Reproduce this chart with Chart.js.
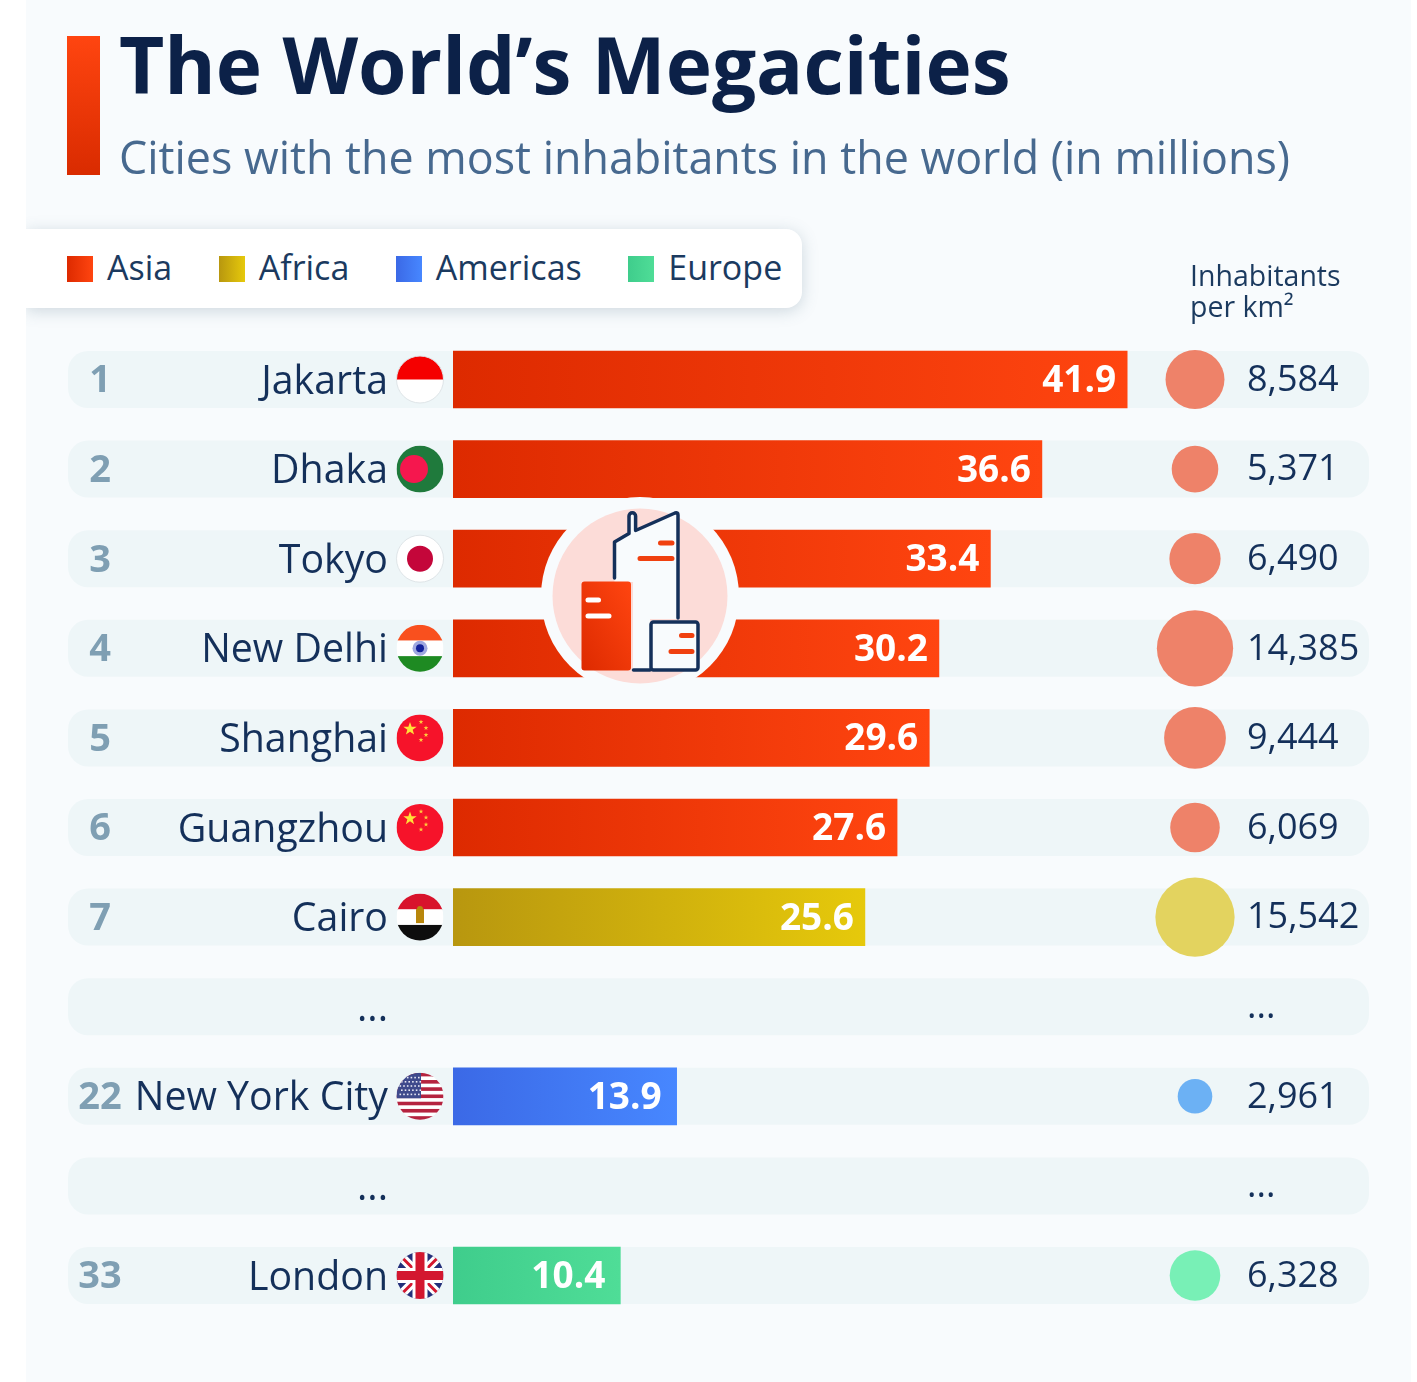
<!DOCTYPE html>
<html>
<head>
<meta charset="utf-8">
<title>The World's Megacities</title>
<script src="https://cdn.jsdelivr.net/npm/chart.js@4/dist/chart.umd.min.js"></script>
<style>
  html, body { margin: 0; padding: 0; background: #fff; }
  body { width: 1417px; height: 1382px; position: relative; overflow: hidden; font-family: "Open Sans", sans-serif; }
  #panel { position: absolute; left: 26px; top: 0; width: 1385px; height: 1382px; background: #f8fbfd; overflow: hidden; }
  #chart { position: absolute; left: 0; top: 0; }
  #accent { position: absolute; left: 67px; top: 36px; width: 33px; height: 139px; background: linear-gradient(#ff4510, #d92b00); }
  #title { position: absolute; left: 119px; top: 14px; font-size: 78.3px; line-height: 100px; font-weight: 700; color: #0c2148; white-space: nowrap; }
  #subtitle { position: absolute; left: 119px; top: 126px; font-size: 44.8px; line-height: 62px; color: #47698f; white-space: nowrap; }
  #legend { position: absolute; left: 0; top: 229px; width: 735px; height: 79px; padding-left: 41px; background: #fff; border-radius: 0 16px 16px 0;
            box-shadow: 0 3px 16px rgba(80, 110, 130, .25); display: flex; align-items: center; gap: 46.5px; }
  #legend div { display: flex; align-items: center; gap: 14px; font-size: 34px; line-height: 40px; color: #1b3a5f; }
  #legend span { position: relative; top: -2px; }
  #legend i { display: block; width: 26px; height: 26px; }
  #density-title { position: absolute; left: 1190px; top: 260px; font-size: 28.5px; line-height: 31px; color: #1b3a5f; }
  #icon { position: absolute; left: 0; top: 0; }
</style>
</head>
<body>
<div id="panel"><div id="legend"></div></div>
<canvas id="chart" width="1417" height="1382"></canvas>
<div id="accent"></div>
<div id="title">The World’s Megacities</div>
<div id="subtitle">Cities with the most inhabitants in the world (in millions)</div>
<div id="density-title">Inhabitants<br>per km²</div>
<svg id="icon" width="1417" height="1382">
  <defs>
    <linearGradient id="red" x1="0" y1="1" x2="1" y2="0">
      <stop offset="0" stop-color="#dd2a00"/><stop offset="1" stop-color="#ff4510"/>
    </linearGradient>
  </defs>
  <circle cx="640" cy="596" r="99" fill="#f8fbfd"/>
  <circle cx="640" cy="596" r="87.5" fill="#fcdcd8"/>
  <path d="M614.5 578V542L629 533.5V516a3.3 3.3 0 0 1 6.6 0V530.5L675 513q3-1 3 2V619H650V670H633V582H614.5Z" fill="#f8fbfd"/>
  <path d="M614.5 578V542L629 533.5V516a3.3 3.3 0 0 1 6.6 0V530.5L675 513q3-1 3 2V618" fill="none" stroke="#14305a" stroke-width="3.5" stroke-linecap="round" stroke-linejoin="round"/>
  <path d="M660.5 543H672M640 558.5H672" stroke="#f0400f" stroke-width="5" stroke-linecap="round"/>
  <rect x="581.5" y="581.5" width="49.5" height="89" rx="3" fill="url(#red)"/>
  <path d="M588 600H598.5M588 616H609" stroke="#fff" stroke-width="5" stroke-linecap="round"/>
  <rect x="651" y="622" width="47" height="48" rx="2.5" fill="#f8fbfd" stroke="#14305a" stroke-width="3.5"/>
  <path d="M633.5 670H650" stroke="#14305a" stroke-width="3.5" stroke-linecap="round"/>
  <path d="M681.5 635.5H692M671 651.5H692" stroke="#f0400f" stroke-width="5" stroke-linecap="round"/>
</svg>

<script>
var cities = ["Jakarta", "Dhaka", "Tokyo", "New Delhi", "Shanghai", "Guangzhou", "Cairo", "...", "New York City", "...", "London"];
var ranks = ["1", "2", "3", "4", "5", "6", "7", "", "22", "", "33"];
var population = [41.9, 36.6, 33.4, 30.2, 29.6, 27.6, 25.6, null, 13.9, null, 10.4];
var density = [8584, 5371, 6490, 14385, 9444, 6069, 15542, null, 2961, null, 6328];
var regions = ["Asia", "Asia", "Asia", "Asia", "Asia", "Asia", "Africa", "", "Americas", "", "Europe"];
var flags = ["id", "bd", "jp", "in", "cn", "cn", "eg", "", "us", "", "gb"];
var legendNames = ["Asia", "Africa", "Americas", "Europe"];

var barColors = {
  Asia: ["#dd2a00", "#ff4510"],
  Africa: ["#b8970f", "#e6c90b"],
  Americas: ["#3b69e6", "#4787ff"],
  Europe: ["#3fcd8c", "#4fdd97"]
};
var bubbleColors = { Asia: "#ee8269", Africa: "#e3d35f", Americas: "#6cb1f4", Europe: "#78f0b6" };

var pxPerUnit = 16.09;
var xMax = (1369 - 453) / pxPerUnit;
var bubbleColumn = (1195 - 453) / pxPerUnit;
var rowLeft = 68, rowHeight = 57, flagX = 420, flagR = 23.5, rankX = 100, densityX = 1247;

document.getElementById("legend").innerHTML = legendNames.map(function (name) {
  var c = barColors[name];
  return '<div><i style="background:linear-gradient(90deg,' + c[0] + ',' + c[1] + ')"></i><span>' + name + '</span></div>';
}).join("");

function barGradient(ctx) {
  var chart = ctx.chart;
  var value = population[ctx.dataIndex];
  if (value == null || !chart.scales.x) return "#000";
  var x0 = chart.scales.x.getPixelForValue(0);
  var x1 = chart.scales.x.getPixelForValue(value);
  // scales have no size yet on the first pass
  if (!isFinite(x0) || !isFinite(x1)) return "#000";
  var g = chart.ctx.createLinearGradient(x0, 0, x1, 0);
  g.addColorStop(0, barColors[regions[ctx.dataIndex]][0]);
  g.addColorStop(1, barColors[regions[ctx.dataIndex]][1]);
  return g;
}

function star(c, x, y, r, color) {
  c.fillStyle = color;
  c.beginPath();
  for (var i = 0; i < 10; i++) {
    var a = -Math.PI / 2 + i * Math.PI / 5;
    var d = i % 2 ? r * 0.4 : r;
    c.lineTo(x + Math.cos(a) * d, y + Math.sin(a) * d);
  }
  c.closePath();
  c.fill();
}

function stripes(c, y, r, list) {
  var h = 2 * r / list.length;
  list.forEach(function (color, i) {
    c.fillStyle = color;
    c.fillRect(flagX - r, y - r + i * h, 2 * r, h + 0.5);
  });
}

function drawFlag(c, code, y) {
  var r = flagR;
  c.save();
  c.beginPath();
  c.arc(flagX, y, r, 0, Math.PI * 2);
  c.clip();
  if (code == "id") {
    stripes(c, y, r, ["#f50000", "#ffffff"]);
  } else if (code == "bd") {
    c.fillStyle = "#1f7a3c";
    c.fillRect(flagX - r, y - r, 2 * r, 2 * r);
    c.fillStyle = "#f5174e";
    c.beginPath(); c.arc(flagX - 6, y, 14, 0, Math.PI * 2); c.fill();
  } else if (code == "jp") {
    c.fillStyle = "#ffffff";
    c.fillRect(flagX - r, y - r, 2 * r, 2 * r);
    c.fillStyle = "#c4063a";
    c.beginPath(); c.arc(flagX, y, 13, 0, Math.PI * 2); c.fill();
  } else if (code == "in") {
    stripes(c, y, r, ["#f9501e", "#ffffff", "#1e8a22"]);
    c.fillStyle = "#9fa8e0";
    c.beginPath(); c.arc(flagX, y, 7.5, 0, Math.PI * 2); c.fill();
    c.fillStyle = "#12209a";
    c.beginPath(); c.arc(flagX, y, 4, 0, Math.PI * 2); c.fill();
  } else if (code == "cn") {
    c.fillStyle = "#f6132a";
    c.fillRect(flagX - r, y - r, 2 * r, 2 * r);
    star(c, flagX - 10, y - 9, 7, "#ffe13a");
    star(c, flagX + 1, y - 16, 2.5, "#ffc93a");
    star(c, flagX + 6, y - 10, 2.5, "#ffc93a");
    star(c, flagX + 6, y - 3, 2.5, "#ffc93a");
    star(c, flagX + 1, y + 2, 2.5, "#ffc93a");
  } else if (code == "eg") {
    stripes(c, y, r, ["#d8132c", "#ffffff", "#0d0d0d"]);
    c.fillStyle = "#b8860b";
    c.fillRect(flagX - 4, y - 8, 8, 14);
    c.beginPath(); c.arc(flagX, y - 8, 3, 0, Math.PI * 2); c.fill();
  } else if (code == "us") {
    stripes(c, y, r, ["#b5233f", "#fff", "#b5233f", "#fff", "#b5233f", "#fff", "#b5233f", "#fff", "#b5233f", "#fff", "#b5233f", "#fff", "#b5233f"]);
    c.fillStyle = "#3f4a8c";
    c.fillRect(flagX - r, y - r, r + 1, r + 2);
    c.fillStyle = "#e8e8f4";
    for (var row = 0; row < 5; row++) {
      for (var col = 0; col < 6; col++) {
        c.fillRect(flagX - r + 3 + col * 3.7 + (row % 2) * 1.5, y - r + 4 + row * 4.2, 1.6, 1.6);
      }
    }
  } else if (code == "gb") {
    c.fillStyle = "#24307a";
    c.fillRect(flagX - r, y - r, 2 * r, 2 * r);
    c.lineWidth = 9; c.strokeStyle = "#ffffff";
    c.beginPath();
    c.moveTo(flagX - r, y - r); c.lineTo(flagX + r, y + r);
    c.moveTo(flagX + r, y - r); c.lineTo(flagX - r, y + r);
    c.stroke();
    c.lineWidth = 3; c.strokeStyle = "#d3172f";
    c.stroke();
    c.fillStyle = "#ffffff";
    c.fillRect(flagX - 7.5, y - r, 15, 2 * r);
    c.fillRect(flagX - r, y - 7.5, 2 * r, 15);
    c.fillStyle = "#d3172f";
    c.fillRect(flagX - 4.5, y - r, 9, 2 * r);
    c.fillRect(flagX - r, y - 4.5, 2 * r, 9);
  }
  c.restore();
  if (code == "id" || code == "jp") {
    c.strokeStyle = "#dfe5e8";
    c.lineWidth = 1;
    c.beginPath(); c.arc(flagX, y, r, 0, Math.PI * 2); c.stroke();
  }
}

// row pills sit under everything, flags/ranks/values go on top
var rowsPlugin = {
  id: "rows",
  beforeDraw: function (chart) {
    var c = chart.ctx, yScale = chart.scales.y;
    c.save();
    c.fillStyle = "#eef6f8";
    cities.forEach(function (name, i) {
      var y = yScale.getPixelForTick(i);
      c.beginPath();
      c.roundRect(rowLeft, y - rowHeight / 2, chart.chartArea.right - rowLeft, rowHeight, 20);
      c.fill();
    });
    c.restore();
  },
  afterDatasetsDraw: function (chart) {
    var c = chart.ctx, yScale = chart.scales.y, xScale = chart.scales.x;
    c.save();
    c.textBaseline = "middle";
    cities.forEach(function (name, i) {
      var y = yScale.getPixelForTick(i);
      if (ranks[i]) {
        c.font = "700 38px 'Open Sans'";
        c.fillStyle = "#7f9fb3";
        c.textAlign = "center";
        c.fillText(ranks[i], rankX, y + 2);
      }
      if (flags[i]) drawFlag(c, flags[i], y);
      c.font = "400 36px 'Open Sans'";
      c.fillStyle = "#14305a";
      c.textAlign = "left";
      c.fillText(density[i] == null ? "..." : density[i].toLocaleString("en-US"), densityX, y + 1);
      if (population[i] != null) {
        c.font = "700 37px 'Open Sans'";
        c.fillStyle = "#ffffff";
        c.textAlign = "right";
        var inset = population[i] < 15 ? 15 : 11;
        c.fillText(population[i].toFixed(1), xScale.getPixelForValue(population[i]) - inset, y + 2);
      }
    });
    c.restore();
  }
};

new Chart(document.getElementById("chart"), {
  type: "bar",
  plugins: [rowsPlugin],
  data: {
    labels: cities,
    datasets: [
      {
        type: "line",
        label: "Inhabitants per km²",
        data: density.map(function (d) { return d == null ? null : bubbleColumn; }),
        showLine: false,
        pointRadius: density.map(function (d) { return d == null ? 0 : 0.318 * Math.sqrt(d); }),
        pointBackgroundColor: regions.map(function (r) { return bubbleColors[r] || "transparent"; }),
        pointBorderWidth: 0,
        clip: false
      },
      {
        label: "Population (millions)",
        data: population,
        backgroundColor: barGradient,
        barThickness: rowHeight,
        borderSkipped: false
      }
    ]
  },
  options: {
    indexAxis: "y",
    responsive: false,
    animation: false,
    events: [],
    // line points would otherwise pad the chart area
    layout: { autoPadding: false, padding: { top: 334.7, bottom: 61.7, left: 0, right: 48 } },
    plugins: { legend: { display: false }, title: { display: false }, tooltip: { enabled: false } },
    scales: {
      x: { display: false, min: 0, max: xMax },
      y: {
        // tick padding also ends up as vertical scale padding, drop it
        afterFit: function (scale) {
          scale.width = 453;
          scale.paddingTop = 0;
          scale.paddingBottom = 0;
        },
        grid: { display: false, drawTicks: false },
        border: { display: false },
        ticks: {
          autoSkip: false,
          padding: 65,
          labelOffset: 3,
          color: "#14305a",
          font: { family: "'Open Sans'", size: 39.3 }
        }
      }
    }
  }
});
</script>
</body>
</html>
